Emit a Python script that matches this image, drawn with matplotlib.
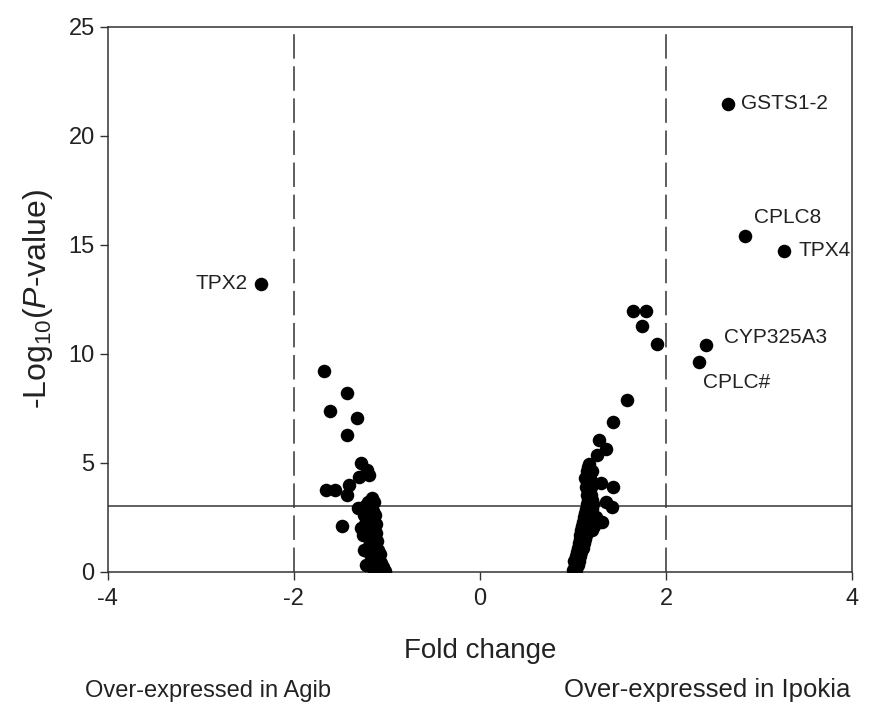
import matplotlib
matplotlib.use("Agg")
import matplotlib.pyplot as plt
import numpy as np

plt.rcParams["font.family"] = ["Liberation Sans", "DejaVu Sans"]
plt.rcParams["mathtext.fontset"] = "custom"
plt.rcParams["mathtext.rm"] = "Liberation Sans"
plt.rcParams["mathtext.it"] = "Liberation Sans:italic"
plt.rcParams["axes.unicode_minus"] = False

# labelled genes
gene_names = ["GSTS1-2", "CPLC8", "TPX4", "TPX2", "CYP325A3", "CPLC#"]
gene_fc = [2.66, 2.85, 3.27, -2.35, 2.43, 2.35]
gene_logp = [21.47, 15.41, 14.72, 13.21, 10.41, 9.63]

# over-expressed in Agib (negative fold change)
agib_fc = [-1.68, -1.43, -1.61, -1.32, -1.43, -1.28, -1.22, -1.19, -1.30,
           -1.65, -1.56, -1.41, -1.43, -1.48, -1.31, -1.28,
           -1.16, -1.14, -1.20, -1.17, -1.24, -1.15, -1.21, -1.13, -1.19,
           -1.25, -1.16, -1.22, -1.12, -1.18, -1.24, -1.15, -1.21, -1.12,
           -1.18, -1.14, -1.20, -1.11, -1.17, -1.13, -1.19, -1.10, -1.16,
           -1.25, -1.12, -1.18, -1.07, -1.09, -1.15, -1.06, -1.12, -1.18,
           -1.04, -1.10, -1.16, -1.02, -1.08, -1.26, -1.23, -1.14]
agib_logp = [9.22, 8.20, 7.39, 7.06, 6.28, 5.00, 4.68, 4.45, 4.36,
             3.76, 3.76, 3.99, 3.53, 2.11, 2.94, 2.02,
             3.40, 3.20, 3.20, 3.00, 3.00, 2.80, 2.80, 2.60, 2.60,
             2.60, 2.40, 2.40, 2.20, 2.20, 2.20, 2.00, 2.00, 1.80,
             1.80, 1.60, 1.60, 1.40, 1.40, 1.20, 1.20, 1.00, 1.00,
             1.00, 0.80, 0.80, 0.80, 0.60, 0.60, 0.40, 0.40, 0.40,
             0.20, 0.20, 0.20, 0.05, 0.05, 1.70, 0.30, 0.10]

# over-expressed in Ipokia (positive fold change)
ipokia_fc = [1.645, 1.785, 1.74, 1.90, 1.58, 1.43, 1.28, 1.35, 1.26, 1.17,
             1.30, 1.43, 1.35, 1.42, 1.31,
             1.00, 1.03, 1.02, 1.05, 1.01, 1.06, 1.03, 1.08, 1.04, 1.09,
             1.05, 1.11, 1.06, 1.12, 1.07, 1.13, 1.08, 1.14, 1.09, 1.15,
             1.20, 1.10, 1.16, 1.22, 1.11, 1.17, 1.23, 1.12, 1.18, 1.25,
             1.13, 1.19, 1.14, 1.20, 1.15, 1.21, 1.16, 1.20, 1.15, 1.19,
             1.16, 1.14, 1.19, 1.15, 1.13, 1.18, 1.15, 1.20, 1.16]
ipokia_logp = [11.97, 11.97, 11.28, 10.46, 7.89, 6.88, 6.06, 5.64, 5.37, 4.95,
               4.08, 3.90, 3.20, 2.98, 2.30,
               0.10, 0.10, 0.30, 0.30, 0.50, 0.50, 0.70, 0.70, 0.90, 0.90,
               1.10, 1.10, 1.30, 1.30, 1.50, 1.50, 1.70, 1.70, 1.90, 1.90,
               1.90, 2.10, 2.10, 2.10, 2.30, 2.30, 2.30, 2.50, 2.50, 2.50,
               2.70, 2.70, 2.90, 2.90, 3.10, 3.10, 3.30, 3.30, 3.50, 3.50,
               3.70, 3.90, 3.90, 4.10, 4.30, 4.30, 4.60, 4.60, 4.80]

fc_cutoff = 2
p_cutoff = 3.0

# label offsets in points
offsets = {"GSTS1-2": (10, 0, "left"), "CPLC8": (6.5, 13.5, "left"),
           "TPX4": (10.5, 0, "left"), "TPX2": (-10, 0, "right"),
           "CYP325A3": (13, 5, "left"), "CPLC#": (3, -15, "left")}

fig = plt.figure(figsize=(8.84, 7.05), dpi=100)
ax = fig.add_axes([0.122, 0.189, 0.842, 0.773])

dot = dict(s=95, color="black", linewidths=0, zorder=3)
ax.scatter(agib_fc, agib_logp, **dot)
ax.scatter(ipokia_fc, ipokia_logp, **dot)
ax.scatter(gene_fc, gene_logp, **dot)

for name, x, y in zip(gene_names, gene_fc, gene_logp):
    dx, dy, ha = offsets[name]
    ax.annotate(name, (x, y), xytext=(dx, dy), textcoords="offset points",
                ha=ha, va="center", fontsize=15, color="#222222")

ax.axhline(p_cutoff, color="#555555", lw=1.3, zorder=1)
for xc in (-fc_cutoff, fc_cutoff):
    ax.axvline(xc, color="#333333", lw=1.1, dashes=(16, 5), zorder=1)

ax.set_xlim(-4, 4)
ax.set_ylim(0, 25)
ax.set_xticks([-4, -2, 0, 2, 4])
ax.set_yticks([0, 5, 10, 15, 20, 25])
ax.tick_params(direction="out", length=6, width=1, colors="#333333",
               labelsize=17, labelcolor="#222222")
ax.tick_params(axis="x", pad=6)
for sp in ax.spines.values():
    sp.set_color("#333333")
    sp.set_linewidth(1.1)

ax.set_xlabel("Fold change", fontsize=20, color="#222222", labelpad=20)
ax.set_ylabel(r"-Log$_{10}$($\mathit{P}$-value)", fontsize=23,
              color="#222222", labelpad=10)

fig.text(0.235, 0.012, "Over-expressed in Agib", ha="center", fontsize=17,
         color="#222222")
fig.text(0.800, 0.012, "Over-expressed in Ipokia", ha="center", fontsize=18.5,
         color="#222222")

fig.savefig("out.png", dpi=100)
